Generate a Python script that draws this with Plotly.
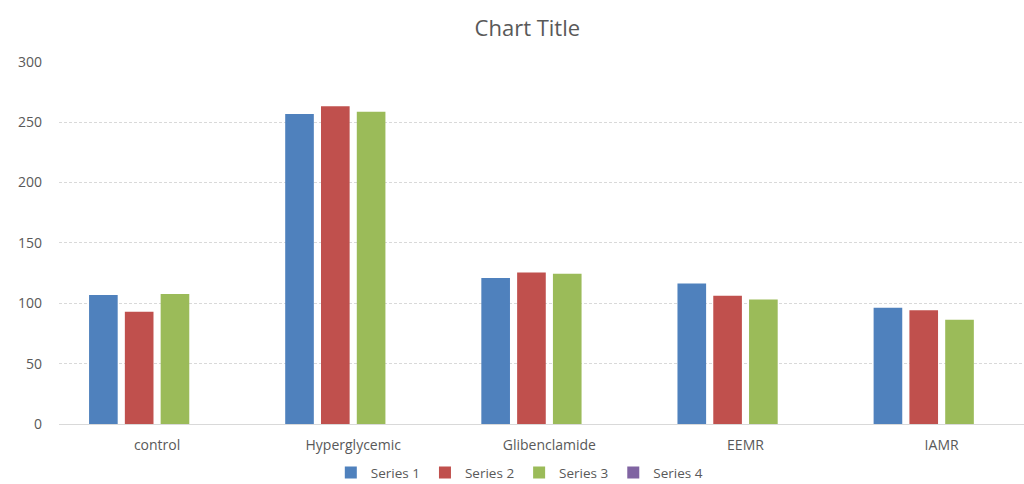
import plotly.graph_objects as go

categories = ["control", "Hyperglycemic", "Glibenclamide", "EEMR", "IAMR"]
series_names = ["Series 1", "Series 2", "Series 3", "Series 4"]
series1 = [106.8, 256.8, 121.0, 116.4, 96.3]
series2 = [93.0, 263.1, 125.5, 106.2, 94.1]
series3 = [107.6, 258.5, 124.4, 103.2, 86.4]
series4 = [None, None, None, None, None]
y_ticks = [0, 50, 100, 150, 200, 250, 300]

colors = ["#4F81BD", "#C0504D", "#9BBB59", "#8064A2"]
text_color = "#595959"
font_family = "'Open Sans', sans-serif"

fig = go.Figure()
for name, values, color in zip(series_names, [series1, series2, series3, series4], colors):
    fig.add_trace(go.Bar(
        name=name,
        x=categories,
        y=values,
        marker=dict(color=color, line=dict(width=0)),
    ))

fig.update_layout(
    width=1024,
    height=484,
    barmode="group",
    bargap=0.27,
    bargroupgap=0.2,
    paper_bgcolor="white",
    plot_bgcolor="white",
    margin=dict(l=59, r=0, t=61, b=60, autoexpand=False),
    title=dict(
        text="Chart Title",
        x=0.515,
        xanchor="center",
        y=0.942,
        yanchor="middle",
        font=dict(family=font_family, size=22, color=text_color),
    ),
    font=dict(family=font_family, size=14, color=text_color),
    legend=dict(
        orientation="h",
        x=0.477,
        xanchor="center",
        y=-0.134,
        yanchor="middle",
        font=dict(size=13.5, color=text_color),
        traceorder="normal",
        itemwidth=30,
    ),
    showlegend=True,
)

fig.update_xaxes(
    type="category",
    range=[-0.5, 4.42],
    showgrid=False,
    showline=True,
    linecolor="#D9D9D9",
    linewidth=1,
    ticks="",
    ticklabelstandoff=8,
    tickfont=dict(size=14, color=text_color),
)
fig.update_yaxes(
    range=[0, 300.6],
    tickvals=y_ticks,
    showgrid=True,
    gridcolor="#D9D9D9",
    griddash="3px,2px",
    gridwidth=1,
    zeroline=False,
    showline=False,
    ticks="",
    ticklabelstandoff=16,
    tickfont=dict(size=14, color=text_color),
)

fig.write_html("out.html")
